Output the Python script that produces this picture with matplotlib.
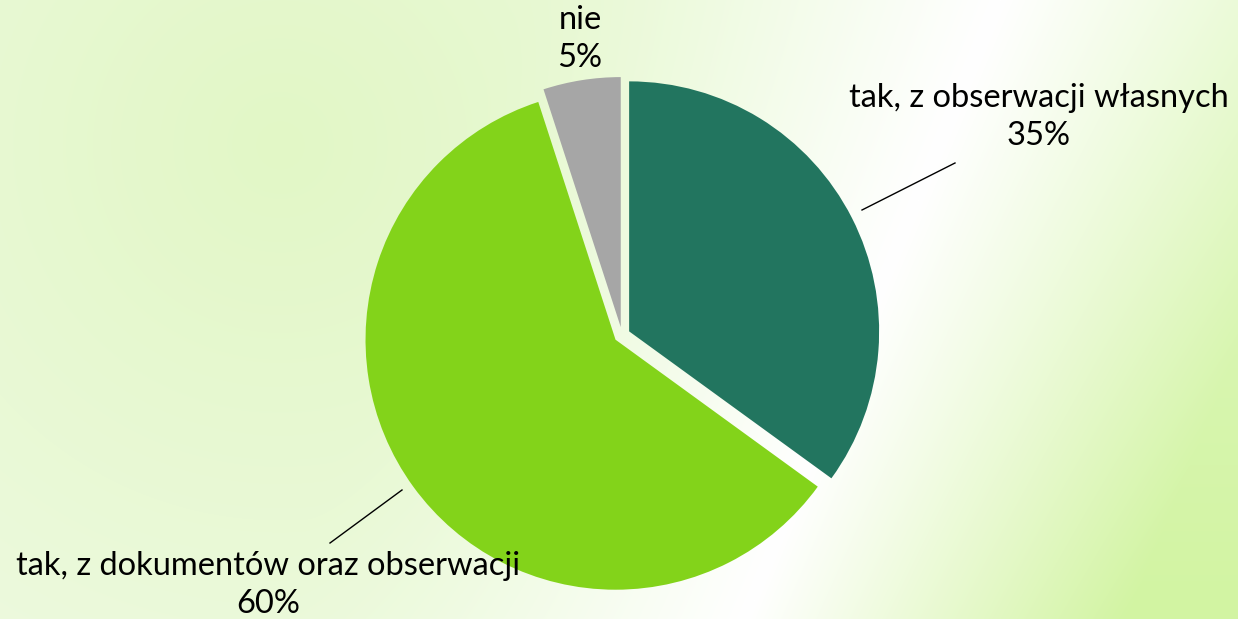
import numpy as np
import matplotlib
matplotlib.use('Agg')
import matplotlib.pyplot as plt
from matplotlib.colors import to_rgb

# Data
labels = ['tak, z obserwacji własnych', 'tak, z dokumentów oraz obserwacji', 'nie']
values = [35, 60, 5]
pct_labels = ['35%', '60%', '5%']
colors = ['#22755f', '#83d31a', '#a6a6a6']

W, H = 1238, 619
fig = plt.figure(figsize=(W / 100, H / 100), dpi=100)
ax = fig.add_axes([0, 0, 1, 1])

# Background: soft radial green on the left, white band, green on the right
yy, xx = np.mgrid[0:H, 0:W].astype(float)
r = np.hypot(xx - 280, yy - 145)
c_center = np.array(to_rgb('#e2f7c6'))
c_outer = np.array(to_rgb('#f0fbe5'))
t = np.clip(r / 750, 0, 1)[..., None]
left = c_center * (1 - t) + c_outer * t
x0 = 1000 - 0.41 * yy
s = xx - x0
wl = np.clip(1 + s / 480, 0, 1)[..., None] ** 1.6
left = left * (1 - wl) + wl
ty = (yy / H)[..., None]
c_right = np.array(to_rgb('#e0f8c2')) * (1 - ty) + np.array(to_rgb('#d2f4a2')) * ty
u = np.clip(s / 380, 0, 1)[..., None]
right = (1 - u) + c_right * u
bg = np.where((s < 0)[..., None], left, right)
ax.imshow(bg, extent=(0, W, 0, H), origin='upper', aspect='auto', zorder=0)

# Pie (explode is in data units here, i.e. pixels)
wedges, _ = ax.pie(values, colors=colors, startangle=90, counterclock=False,
                   explode=[8, 8, 8], radius=250, center=(622, H - 335),
                   wedgeprops=dict(linewidth=0), frame=True)
for w in wedges:
    w.set_zorder(2)

ax.set_xlim(0, W)
ax.set_ylim(0, H)
ax.axis('off')

font = ['Lato', 'DejaVu Sans']
pos = [(1039, 117), (268, 585), (580, 39)]
for lab, pct, (x, y) in zip(labels, pct_labels, pos):
    ax.text(x, H - y, lab + '\n' + pct, ha='center', va='center',
            fontsize=23.5, family=font, linespacing=1.35, color='black', zorder=3)

# Leader lines
ax.plot([862, 955], [H - 210, H - 163], color='black', lw=1, zorder=3)
ax.plot([402, 330], [H - 490, H - 543], color='black', lw=1, zorder=3)

fig.savefig('out.png', dpi=100)
